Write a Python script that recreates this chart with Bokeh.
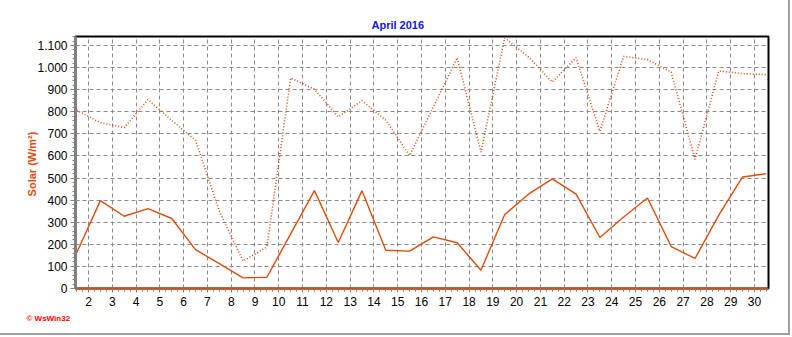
from bokeh.plotting import figure
from bokeh.models import FixedTicker, Range1d, Title
from bokeh.embed import file_html
from bokeh.resources import INLINE

# ---- data ----
days = list(range(1, 31))
solar_avg = [161, 398, 327, 362, 317, 176, 113, 48, 51, 247, 443, 208, 443, 173, 169,
             234, 207, 83, 335, 427, 496, 427, 231, 324, 410, 190, 136, 332, 505, 520]
solar_max = [807, 751, 728, 855, 761, 671, 350, 124, 188, 953, 902, 777, 850, 762, 602,
             822, 1045, 618, 1135, 1048, 935, 1045, 712, 1051, 1036, 980, 585, 985, 973, 968]
x_ticks = list(range(2, 31))
y_ticks = list(range(0, 1200, 100))
y_tick_labels = {v: (f"{v // 1000}.{v % 1000:03d}" if v >= 1000 else str(v)) for v in y_ticks}
title_text = "April 2016"
y_label_text = "Solar  (W/m²)"
credit_text = "© WsWin32"

xs = [d + 0.5 for d in days]

ORANGE = "#E04B0B"
W, H = 790, 335
FL, FB = 75, 288  # frame left / bottom in page pixels

p = figure(width=W, height=H, output_backend="svg", toolbar_location=None,
           x_range=Range1d(1.453, 30.59), y_range=Range1d(0, 1141),
           min_border_left=FL, min_border_right=W - 768, min_border_top=36,
           min_border_bottom=H - FB,
           background_fill_color="white", border_fill_color="white",
           outline_line_color="black", outline_line_width=2,
           styles={"border-right": "2px solid #a0a0a0", "border-bottom": "2px solid #a0a0a0"})

p.line(xs, solar_max, line_color=ORANGE, line_width=1.6, line_dash="1 2")
p.line(xs, solar_avg, line_color=ORANGE, line_width=1.4)

minor_x = [x_ticks[0] - 0.5 + i * 0.25 for i in range(0, 4 * 30) if x_ticks[0] - 0.5 + i * 0.25 <= 30.59]
p.xaxis.ticker = FixedTicker(ticks=x_ticks, minor_ticks=minor_x)
p.yaxis.ticker = FixedTicker(ticks=y_ticks, minor_ticks=list(range(0, 1141, 20)))
p.yaxis.major_label_overrides = y_tick_labels

for ax in (p.xaxis[0], p.yaxis[0]):
    ax.major_label_text_font = "Liberation Sans"
    ax.major_label_text_font_size = "12px"
    ax.major_label_text_color = "black"
    ax.major_tick_in = 0
    ax.minor_tick_in = 0
    ax.major_tick_out = 4
    ax.minor_tick_out = 3
    ax.major_tick_line_color = "#808080"
    ax.minor_tick_line_color = "#808080"

p.xaxis.axis_line_color = ORANGE
p.xaxis.axis_line_width = 2
p.xaxis.major_label_standoff = 4
p.yaxis.axis_line_color = "#808080"
p.yaxis.axis_line_width = 3
p.yaxis.major_label_standoff = 3
p.yaxis.major_tick_out = 5

p.yaxis.axis_label = y_label_text
p.yaxis.axis_label_text_font = "Liberation Sans"
p.yaxis.axis_label_text_font_style = "bold"
p.yaxis.axis_label_text_font_size = "11px"
p.yaxis.axis_label_text_color = ORANGE
p.yaxis.axis_label_standoff = -4

p.grid.grid_line_color = "#8a8a8a"
p.grid.grid_line_dash = "4 3"
p.grid.grid_line_width = 1

p.title.text = title_text
p.title.align = "left"
p.title.offset = 371 - FL
p.title.standoff = 12
p.title.text_font = "Liberation Sans"
p.title.text_font_style = "bold"
p.title.text_font_size = "11px"
p.title.text_color = "#1414E6"

p.add_layout(Title(text=credit_text, align="left", offset=26 - FL, standoff=6,
                   text_font="Liberation Sans", text_font_style="bold",
                   text_font_size="8px", text_color="#FF0000"), "below")

open("out.html", "w").write(file_html(p, INLINE))
